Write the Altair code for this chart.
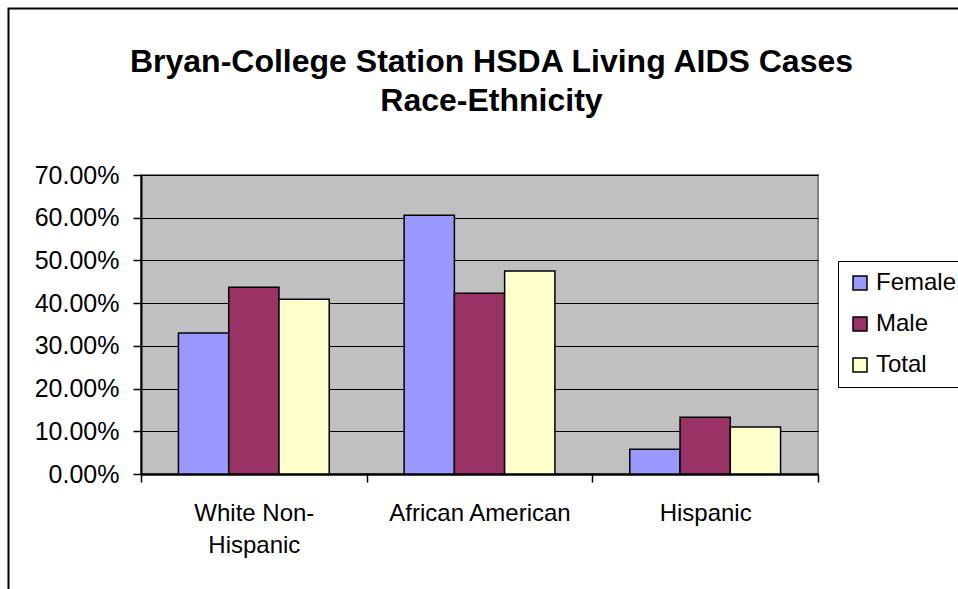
import altair as alt
import pandas as pd

# Share of living AIDS cases by race/ethnicity, split by sex
groups = ["White Non-Hispanic", "African American", "Hispanic"]
series = ["Female", "Male", "Total"]
female = [0.330, 0.606, 0.058]
male = [0.437, 0.423, 0.133]
total = [0.409, 0.475, 0.110]
colors = ["#9999FF", "#993366", "#FFFFCC"]

rows = []
for name, vals in zip(series, [female, male, total]):
    for g, v in zip(groups, vals):
        rows.append({"group": g, "series": name, "share": v})
df = pd.DataFrame(rows)

FONT = "Liberation Sans"
W, H = 677, 299

bars = alt.Chart(df).mark_bar(stroke="black", strokeWidth=1.5).encode(
    x=alt.X(
        "group:N",
        sort=groups,
        title=None,
        scale=alt.Scale(paddingInner=0, paddingOuter=0),
        axis=alt.Axis(
            labelAngle=0,
            labelFont=FONT,
            labelFontSize=24,
            labelColor="black",
            labelPadding=19,
            labelLineHeight=32,
            labelLimit=0,
            labelExpr="datum.label == 'White Non-Hispanic' ? ['White Non-', 'Hispanic'] : datum.label",
            tickBand="extent",
            tickSize=8,
            tickColor="black",
            tickWidth=1.5,
            domainColor="black",
            domainWidth=2.5,
            grid=False,
        ),
    ),
    xOffset=alt.XOffset(
        "series:N",
        sort=series,
        scale=alt.Scale(paddingInner=0, paddingOuter=0.745),
    ),
    y=alt.Y(
        "share:Q",
        title=None,
        scale=alt.Scale(domain=[0, 0.7], nice=False),
        axis=alt.Axis(
            values=[0, 0.1, 0.2, 0.3, 0.4, 0.5, 0.6, 0.7],
            format=".2%",
            labelFont=FONT,
            labelFontSize=25,
            labelColor="black",
            labelPadding=14,
            tickSize=8,
            tickColor="black",
            tickWidth=1.5,
            domainColor="black",
            domainWidth=2,
            grid=True,
            gridColor="black",
            gridWidth=1.2,
        ),
    ),
    color=alt.Color(
        "series:N",
        sort=series,
        scale=alt.Scale(domain=series, range=colors),
        legend=alt.Legend(
            title=None,
            orient="none",
            legendX=697,
            legendY=86,
            labelFont=FONT,
            labelFontSize=24,
            labelColor="black",
            symbolType="square",
            symbolSize=196,
            symbolStrokeColor="black",
            symbolStrokeWidth=1.5,
            symbolOpacity=1,
            rowPadding=17,
            labelOffset=4,
            padding=10,
            strokeColor="black",
            fillColor="white",
        ),
    ),
)

# Outer frame of the chart
frame = alt.Chart(alt.Data(values=[{}])).mark_rect(
    fill=None, stroke="black", strokeWidth=2, clip=False
).encode(
    x=alt.value(-132.5),
    x2=alt.value(900),
    y=alt.value(-166.5),
    y2=alt.value(500),
)

chart = alt.layer(bars, frame).properties(
    width=W,
    height=H,
    title=alt.TitleParams(
        text=["Bryan-College Station HSDA Living AIDS Cases", "Race-Ethnicity"],
        font=FONT,
        fontSize=32,
        fontWeight="bold",
        color="black",
        anchor="middle",
        lineHeight=39,
        offset=-110,
        dx=12,
    ),
    autosize=alt.AutoSizeParams(type="none"),
    padding={"left": 141, "top": 175, "right": 140, "bottom": 115},
    background="white",
).configure_view(
    fill="#C0C0C0",
    stroke="#808080",
    strokeWidth=2,
)

chart.save("out.html", embed_options={"renderer": "svg", "actions": False})
